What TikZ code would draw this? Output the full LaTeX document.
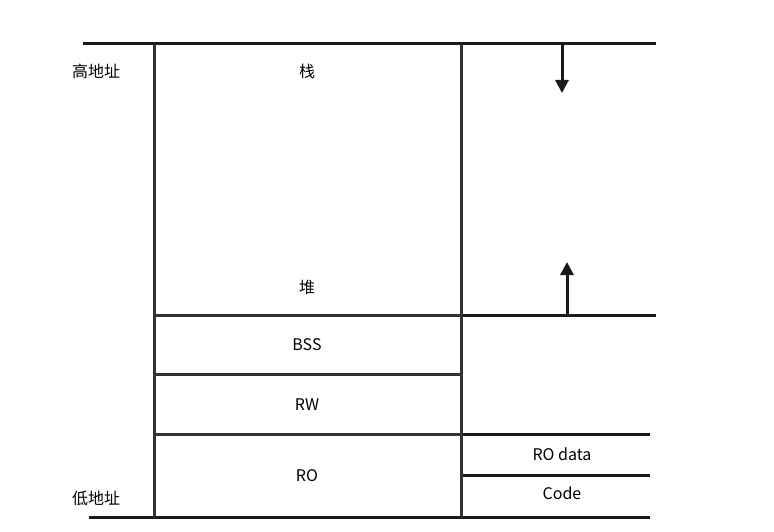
\documentclass[tikz,border=0pt]{standalone}
\usepackage{fontspec}
\setmainfont{Noto Sans CJK SC}
\usetikzlibrary{arrows.meta}
\definecolor{boxgray}{HTML}{333333}
\definecolor{linedark}{HTML}{1A1A1A}
\begin{document}
\begin{tikzpicture}[
x = 1pt,
y = -1pt,
box/.style = {draw=boxgray, line width=3pt},
bound/.style = {draw=linedark, line width=3pt},
growth/.style = {draw=linedark, line width=3pt, -{Triangle[length=13pt,width=13pt]}},
lbl/.style = {font=\fontsize{16}{19}\selectfont, inner sep=0pt}
]
\useasboundingbox (0,0) rectangle (774,532);
% corners
\coordinate (tl) at (154,44);
\coordinate (tm) at (461,44);
\coordinate (bl) at (154,517);
\coordinate (bm) at (461,517);
\coordinate (hl) at (154,315);
\coordinate (hm) at (461,315);
\coordinate (bssl) at (154,374);
\coordinate (bssm) at (461,374);
\coordinate (rol) at (154,434);
\coordinate (rom) at (461,434);
\coordinate (cm) at (461,475);
% outer lines
\coordinate (topl) at (83,44);
\coordinate (topr) at (656,44);
\coordinate (heapr) at (656,315);
\coordinate (ror) at (650,434);
\coordinate (coder) at (650,475);
\coordinate (botl) at (89,517);
\coordinate (botr) at (650,517);
\draw[bound] (topl) -- (topr);
\draw[bound] (hm) -- (heapr);
\draw[bound] (rom) -- (ror);
\draw[bound] (cm) -- (coder);
\draw[bound] (botl) -- (botr);
% boxes
\draw[box] (tl) -- (bl);
\draw[box] (tm) -- (bm);
\draw[box] (hl) -- (hm);
\draw[box] (bssl) -- (bssm);
\draw[box] (rol) -- (rom);
% growth arrows
\coordinate (stacktop) at (562,44);
\coordinate (stackend) at (562,93);
\coordinate (heapbot) at (567,315);
\coordinate (heapend) at (567,262);
\draw[growth] (stacktop) -- (stackend);
\draw[growth] (heapbot) -- (heapend);
% labels
\node[lbl] (high) at (96,71) {高地址};
\node[lbl] (low) at (96,498) {低地址};
\node[lbl] (stack) at (307,71) {栈};
\node[lbl] (heap) at (307,287) {堆};
\node[lbl] (bss) at (307,345) {BSS};
\node[lbl] (rw) at (307,405) {RW};
\node[lbl] (ro) at (307,476) {RO};
\node[lbl] (rodata) at (562,454) {RO data};
\node[lbl] (code) at (562,493) {Code};
\end{tikzpicture}
\end{document}
